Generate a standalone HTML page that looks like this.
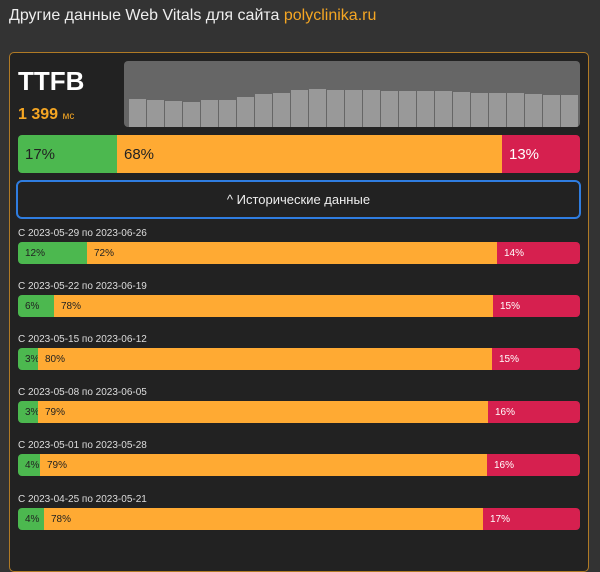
<!DOCTYPE html>
<html><head><meta charset="utf-8"><style>
*{margin:0;padding:0;box-sizing:border-box}
body{width:600px;height:544px;background:#333;overflow:hidden;position:relative;font-family:"Liberation Sans",sans-serif;color:#eee}
.a{position:absolute}
.panel{left:9px;top:52px;width:580px;height:520px;background:#222;border:1px solid #b07a25;border-radius:5px}
.bar{position:absolute;left:18px;width:562px;display:flex;border-radius:4px;overflow:hidden}
.bar div{height:100%;display:flex;align-items:center;padding-left:7px;color:#222}
.g{background:#4cb84f}.o{background:#ffaa33}.r{background:#d6204f;color:#fff!important}
.lab{position:absolute;left:18px;font-size:10px;color:#ddd}
</style></head><body>
<div class="a" style="left:9px;top:7px;font-size:16px;color:#eee">Другие данные Web Vitals для сайта <span style="color:#f5a623">polyclinika.ru</span></div>
<div class="a panel"></div>
<div class="a" style="left:18px;top:66px;font-size:26px;font-weight:bold;color:#fff">TTFB</div>
<div class="a" style="left:18px;top:106px;font-size:16px;font-weight:bold;color:#f5a623">1 399 <span style="font-size:10px;font-weight:normal">мс</span></div>
<div class="a" style="left:124px;top:61px;width:456px;height:66px;background:#666;border-radius:4px;overflow:hidden">
<svg width="456" height="66" style="position:absolute;left:0;top:0">
<g fill="#999">
<rect x="5" y="38" width="17" height="28"/><rect x="23" y="39" width="17" height="27"/><rect x="41" y="40" width="17" height="26"/><rect x="59" y="41" width="17" height="25"/><rect x="77" y="39" width="17" height="27"/><rect x="95" y="39" width="17" height="27"/><rect x="113" y="36" width="17" height="30"/><rect x="131" y="33" width="17" height="33"/><rect x="149" y="32" width="17" height="34"/><rect x="167" y="29" width="17" height="37"/><rect x="185" y="28" width="17" height="38"/><rect x="203" y="29" width="17" height="37"/><rect x="221" y="29" width="17" height="37"/><rect x="239" y="29" width="17" height="37"/><rect x="257" y="30" width="17" height="36"/><rect x="275" y="30" width="17" height="36"/><rect x="293" y="30" width="17" height="36"/><rect x="311" y="30" width="17" height="36"/><rect x="329" y="31" width="17" height="35"/><rect x="347" y="32" width="17" height="34"/><rect x="365" y="32" width="17" height="34"/><rect x="383" y="32" width="17" height="34"/><rect x="401" y="33" width="17" height="33"/><rect x="419" y="34" width="17" height="32"/><rect x="437" y="34" width="17" height="32"/>
</g></svg></div>
<div class="bar" style="top:135px;height:38px;font-size:15px">
<div class="g" style="width:99px">17%</div><div class="o" style="width:385px">68%</div><div class="r" style="flex:1">13%</div></div>
<div class="a" style="left:16px;top:180px;width:565px;height:39px;border:2px solid #2f7de0;border-radius:6px;background:#222;display:flex;align-items:center;justify-content:center;font-size:13px;color:#eee">^ Исторические данные</div>

<div class="lab" style="top:228px">С 2023-05-29 по 2023-06-26</div>
<div class="bar" style="top:242px;height:22px;font-size:10px"><div class="g" style="width:69px">12%</div><div class="o" style="width:410px">72%</div><div class="r" style="flex:1">14%</div></div>
<div class="lab" style="top:281px">С 2023-05-22 по 2023-06-19</div>
<div class="bar" style="top:295px;height:22px;font-size:10px"><div class="g" style="width:36px">6%</div><div class="o" style="width:439px">78%</div><div class="r" style="flex:1">15%</div></div>
<div class="lab" style="top:334px">С 2023-05-15 по 2023-06-12</div>
<div class="bar" style="top:348px;height:22px;font-size:10px"><div class="g" style="width:20px">3%</div><div class="o" style="width:454px">80%</div><div class="r" style="flex:1">15%</div></div>
<div class="lab" style="top:387px">С 2023-05-08 по 2023-06-05</div>
<div class="bar" style="top:401px;height:22px;font-size:10px"><div class="g" style="width:20px">3%</div><div class="o" style="width:450px">79%</div><div class="r" style="flex:1">16%</div></div>
<div class="lab" style="top:440px">С 2023-05-01 по 2023-05-28</div>
<div class="bar" style="top:454px;height:22px;font-size:10px"><div class="g" style="width:22px">4%</div><div class="o" style="width:447px">79%</div><div class="r" style="flex:1">16%</div></div>
<div class="lab" style="top:494px">С 2023-04-25 по 2023-05-21</div>
<div class="bar" style="top:508px;height:22px;font-size:10px"><div class="g" style="width:26px">4%</div><div class="o" style="width:439px">78%</div><div class="r" style="flex:1">17%</div></div>
</body></html>
